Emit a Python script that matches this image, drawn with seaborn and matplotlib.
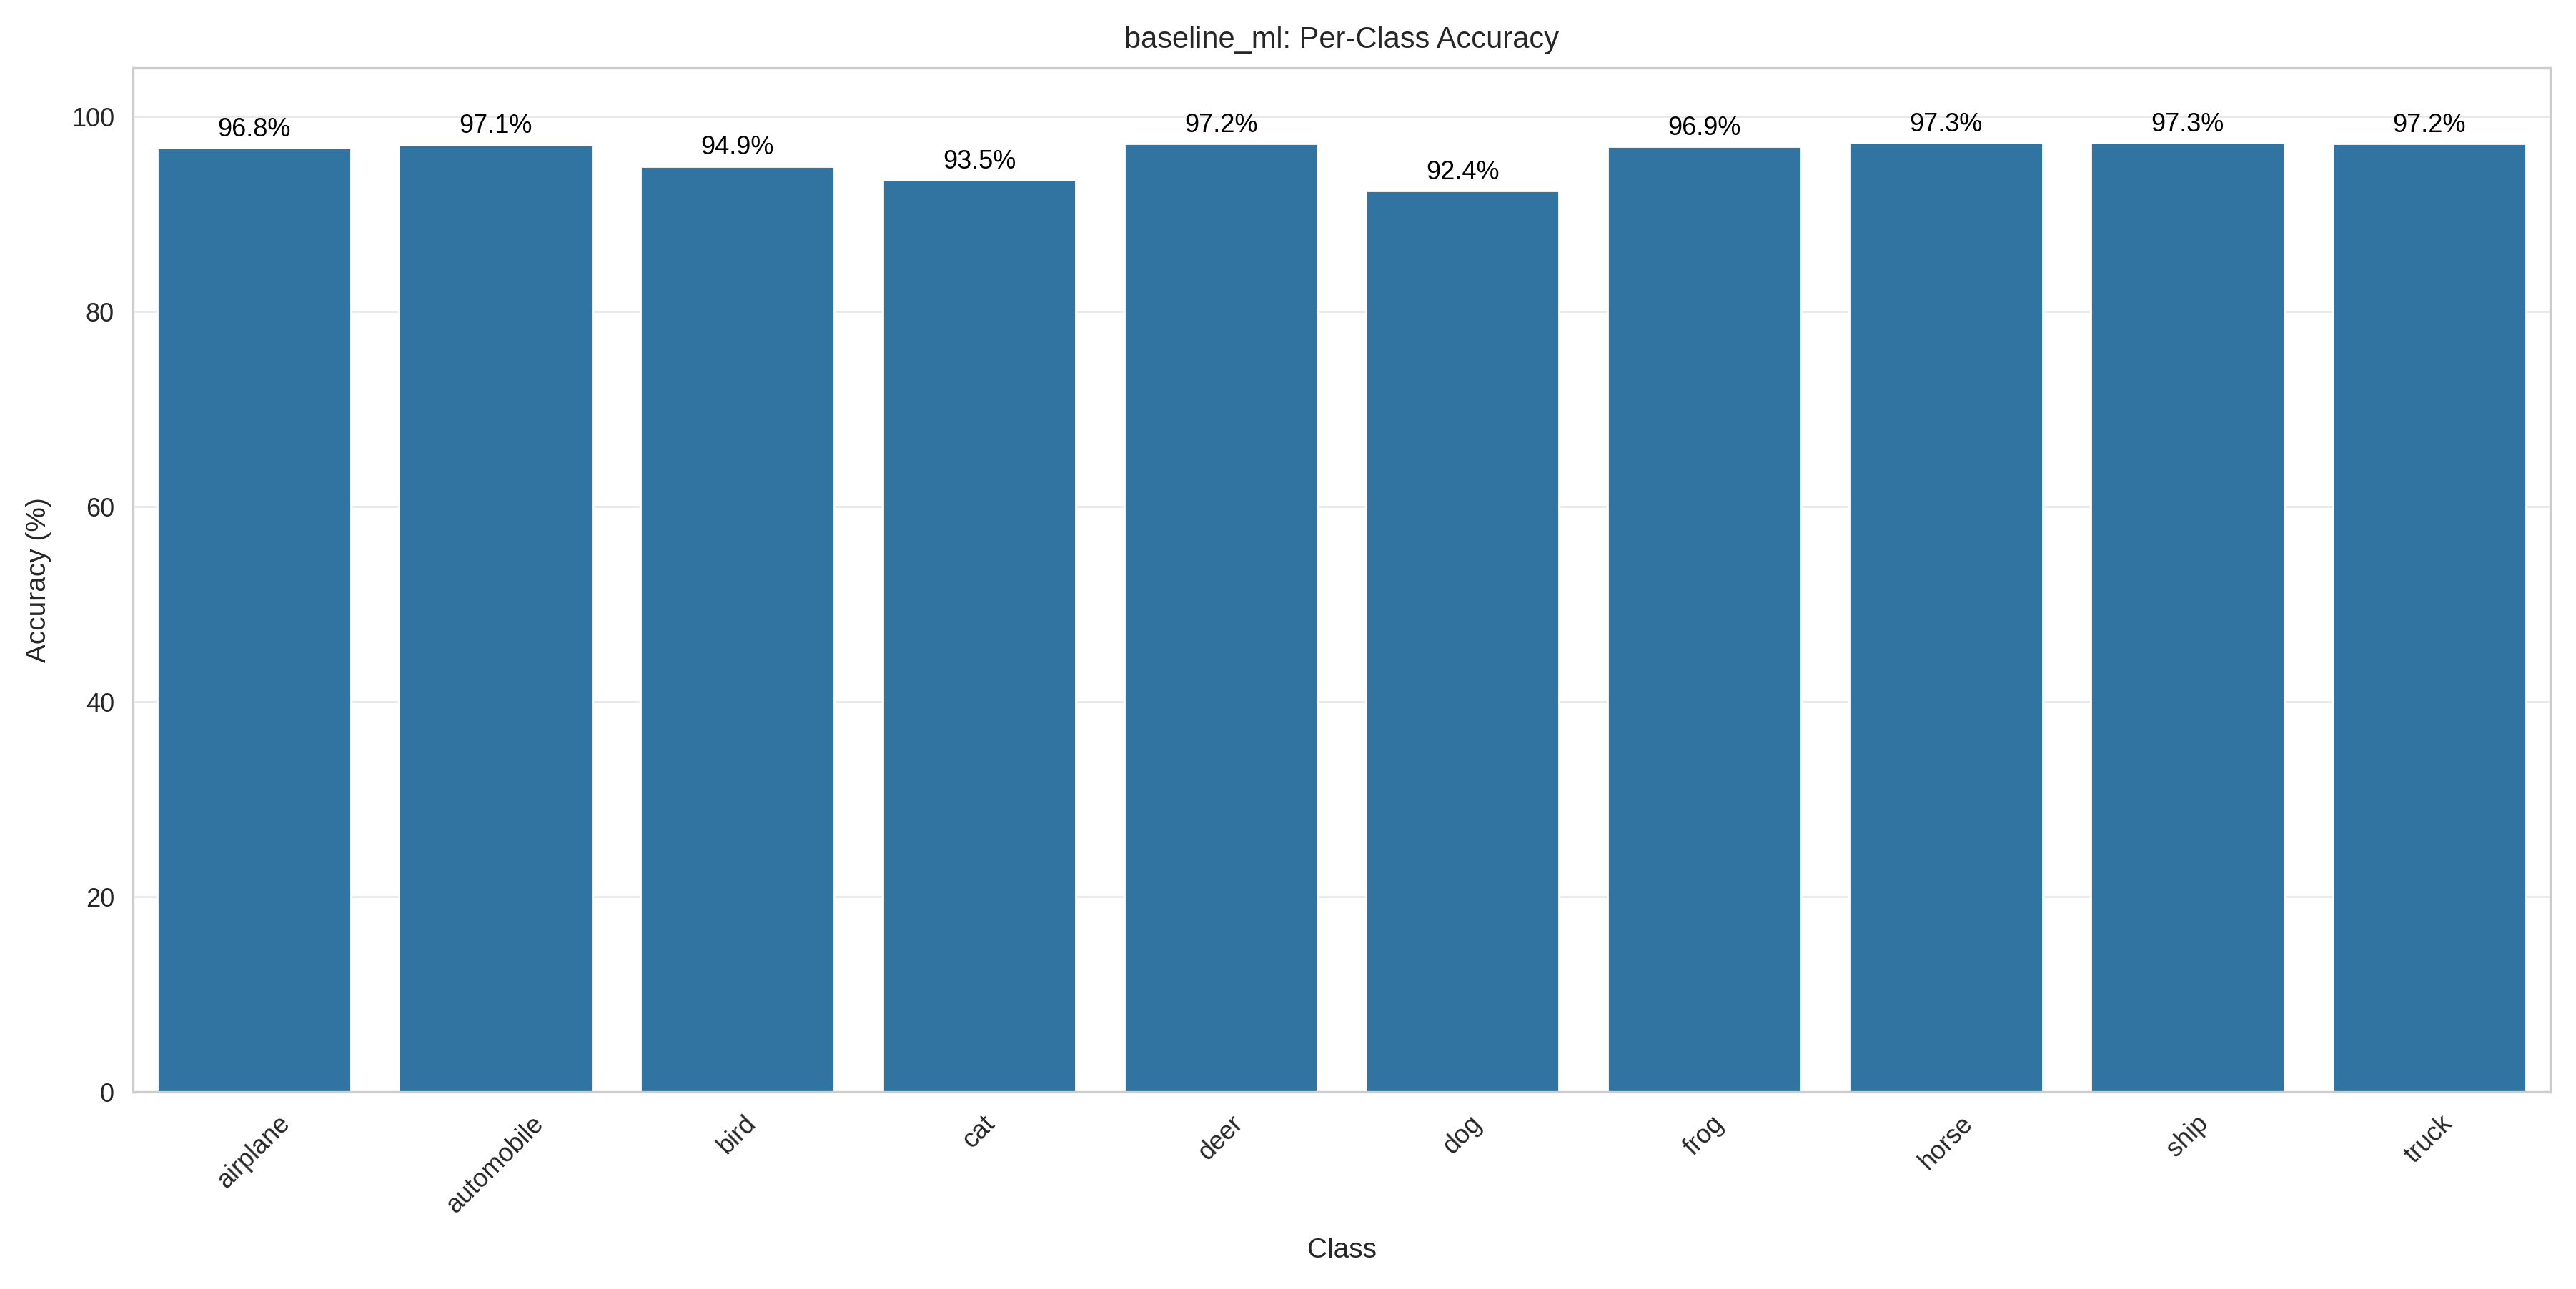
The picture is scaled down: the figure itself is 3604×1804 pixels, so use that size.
import matplotlib
matplotlib.use("Agg")
import matplotlib.pyplot as plt
import pandas as pd
import seaborn as sns

classes = ['airplane', 'automobile', 'bird', 'cat', 'deer',
           'dog', 'frog', 'horse', 'ship', 'truck']
accuracy = [96.8, 97.1, 94.9, 93.5, 97.2, 92.4, 96.9, 97.3, 97.3, 97.2]

df = pd.DataFrame({'Class': classes, 'Accuracy': accuracy})

sns.set_theme(style='whitegrid')
plt.rcParams['font.family'] = ['Liberation Sans', 'DejaVu Sans']

fig, ax = plt.subplots(figsize=(18.02, 9.02), dpi=200)
sns.barplot(data=df, x='Class', y='Accuracy', color='#1f77b4', saturation=0.75, ax=ax)

for i, v in enumerate(accuracy):
    ax.text(i, v + 0.6, f'{v:.1f}%', ha='center', va='bottom', fontsize=13, color='black')

ax.set_ylim(0, 105)
ax.set_title('baseline_ml: Per-Class Accuracy', fontsize=15, pad=10)
ax.set_xlabel('Class', fontsize=14, labelpad=10)
ax.set_ylabel('Accuracy (%)', fontsize=14, labelpad=10)
ax.tick_params(axis='both', labelsize=13)
plt.setp(ax.get_xticklabels(), rotation=45)
ax.grid(axis='x', visible=False)
ax.grid(axis='y', color='#e8e8e8')
for s in ax.spines.values():
    s.set_color('#cccccc')
    s.set_linewidth(1.2)

plt.tight_layout()
plt.savefig('out.png', dpi=200)
